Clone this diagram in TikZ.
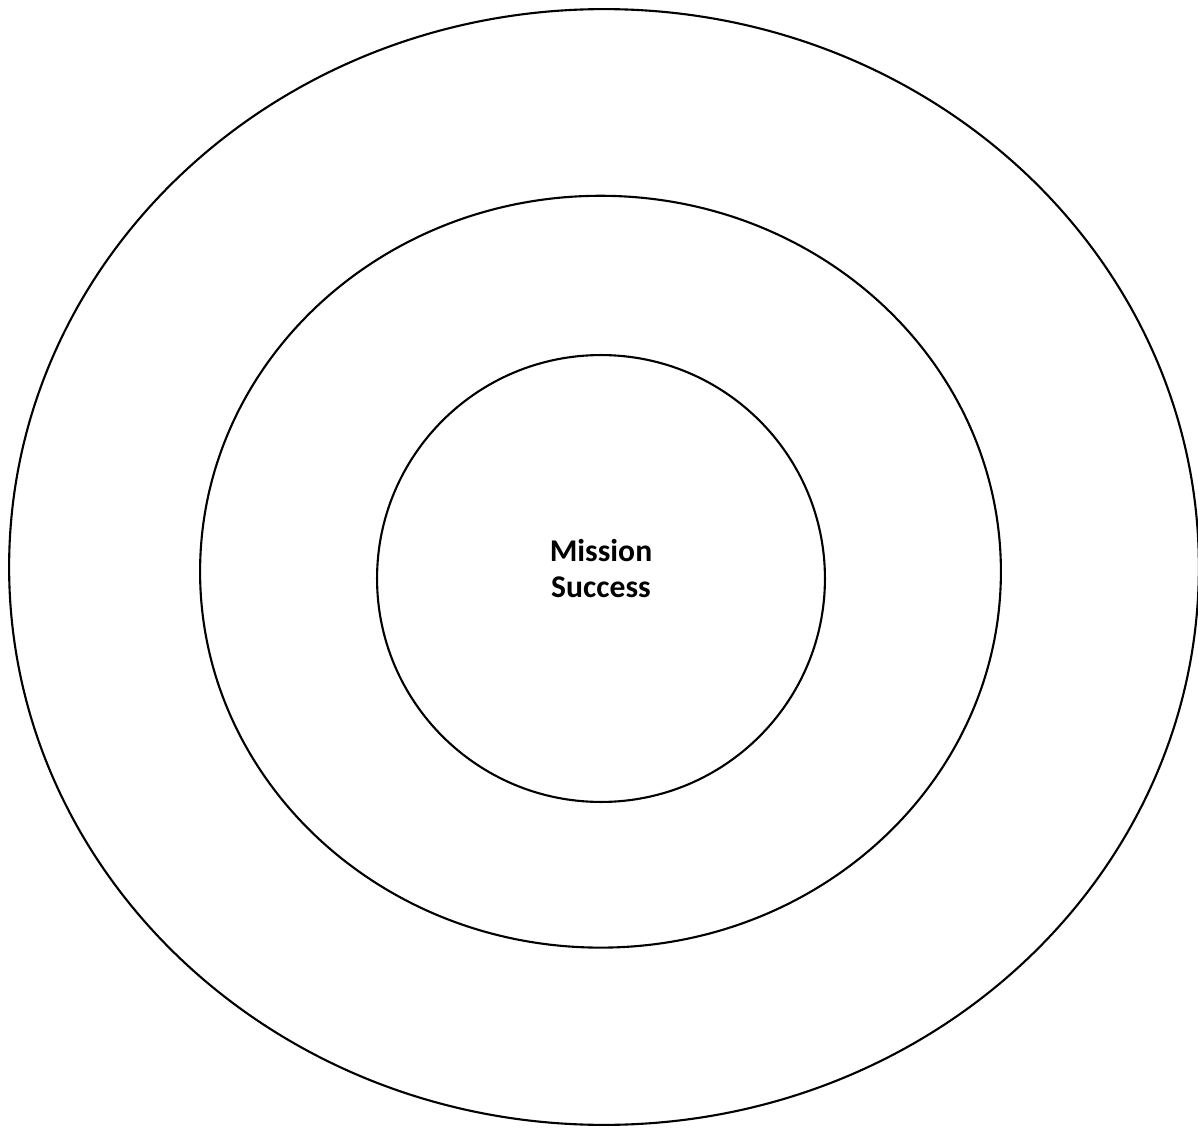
\documentclass[tikz,border=0pt]{standalone}
\usepackage{fontspec}
\setmainfont{Carlito}
\usetikzlibrary{shapes.geometric}

\begin{document}
\begin{tikzpicture}[
    x=0.02cm, y=-0.02cm,
    ring/.style={ellipse, draw, line width=1.2pt, inner sep=0pt},
    label/.style={align=center, font=\fontsize{18}{20.5}\selectfont\bfseries}
]
    \useasboundingbox (0,0) rectangle (1198,1129);
    \node[ring, minimum width=23.8cm, minimum height=22.32cm] (outer) at (604,567) {};
    \node[ring, minimum width=16.02cm, minimum height=15.04cm] (middle) at (600.5,571.7) {};
    \node[ring, minimum width=8.96cm, minimum height=8.94cm] (inner) at (601,578.5) {};
    \node[label] (goal) at (601,569) {Mission\\Success};
\end{tikzpicture}
\end{document}
